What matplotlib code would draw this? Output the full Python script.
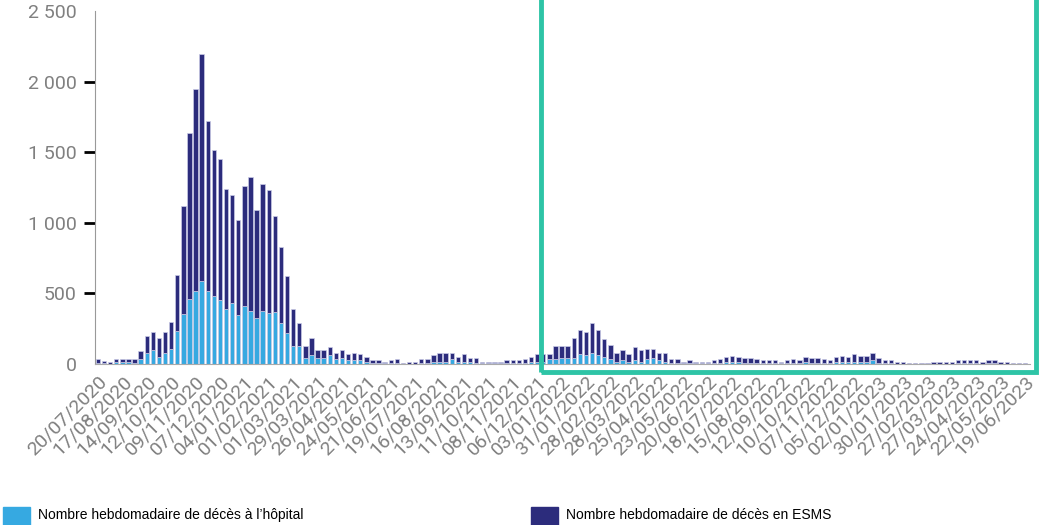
import matplotlib
matplotlib.use("Agg")
from matplotlib import pyplot as plt
from matplotlib.patches import Rectangle

# weekly deaths (total = hospital + ESMS)
total = [33, 23, 16, 33, 33, 33, 33, 90, 198, 226, 181, 226, 299, 628, 1120, 1640,
         1946, 2200, 1725, 1513, 1450, 1240, 1195, 1021, 1261, 1322, 1092, 1276, 1231,
         1047, 828, 626, 390, 289, 127, 181, 99, 99, 118, 80, 99, 71, 80, 71, 52, 26,
         26, 16, 26, 35, 5, 16, 16, 35, 35, 64, 80, 80, 80, 52, 71, 45, 45, 16, 16, 16,
         16, 26, 26, 26, 35, 52, 71, 71, 71, 125, 125, 125, 181, 238, 226, 292, 238,
         174, 134, 80, 99, 71, 118, 99, 108, 108, 80, 75, 35, 35, 16, 26, 16, 16, 16,
         26, 35, 52, 56, 52, 45, 45, 35, 26, 26, 26, 16, 26, 35, 26, 52, 45, 45, 35,
         26, 52, 56, 52, 71, 56, 56, 80, 45, 26, 26, 16, 16, 9, 9, 9, 9, 16, 16, 16,
         16, 26, 26, 26, 26, 16, 26, 26, 16, 16, 9, 9, 5]
hopital = [10, 5, 3, 14, 14, 16, 9, 35, 80, 99, 52, 80, 108, 235, 355, 464, 518, 588,
           518, 482, 454, 390, 435, 346, 409, 374, 327, 374, 358, 365, 289, 219, 127,
           127, 45, 61, 45, 45, 64, 35, 45, 26, 26, 26, 16, 9, 9, 5, 9, 9, 3, 3, 3, 9,
           9, 16, 16, 16, 33, 16, 16, 16, 9, 5, 5, 5, 5, 5, 5, 5, 9, 16, 16, 16, 35, 35,
           45, 45, 45, 71, 64, 80, 64, 52, 35, 16, 26, 16, 26, 16, 35, 45, 26, 16, 9, 9,
           5, 5, 5, 5, 5, 5, 9, 16, 16, 16, 9, 9, 9, 5, 5, 5, 5, 5, 9, 5, 16, 9, 9, 9, 5,
           16, 16, 16, 16, 16, 16, 26, 9, 5, 5, 3, 3, 2, 2, 2, 2, 3, 3, 3, 3, 5, 5, 5, 5,
           3, 5, 5, 3, 3, 2, 2, 1]
esms = [t - h for t, h in zip(total, hopital)]

tick_labels = ["20/07/2020", "17/08/2020", "14/09/2020", "12/10/2020", "09/11/2020",
               "07/12/2020", "04/01/2021", "01/02/2021", "01/03/2021", "29/03/2021",
               "26/04/2021", "24/05/2021", "21/06/2021", "19/07/2021", "16/08/2021",
               "13/09/2021", "11/10/2021", "08/11/2021", "06/12/2021", "03/01/2022",
               "31/01/2022", "28/02/2022", "28/03/2022", "25/04/2022", "23/05/2022",
               "20/06/2022", "18/07/2022", "15/08/2022", "12/09/2022", "10/10/2022",
               "07/11/2022", "05/12/2022", "02/01/2023", "30/01/2023", "27/02/2023",
               "27/03/2023", "24/04/2023", "22/05/2023", "19/06/2023"]
y_ticks = [0, 500, 1000, 1500, 2000, 2500]
y_labels = ["0", "500", "1 000", "1 500", "2 000", "2 500"]

light = "#36a9e1"
dark = "#2c2c7c"
grey = "#808080"

fig = plt.figure(figsize=(10.4, 5.25), dpi=100)
ax = fig.add_axes([0.0913, 0.3067, 0.899, 0.672])

x = list(range(len(total)))
ax.bar(x, hopital, width=0.72, color=light, edgecolor="#c9cbe6", linewidth=0.5)
ax.bar(x, esms, bottom=hopital, width=0.72, color=dark, edgecolor="#c9cbe6", linewidth=0.5)

ax.set_xlim(-0.5, 152.8)
ax.set_ylim(0, 2500)

ax.set_xticks(list(range(0, 4 * len(tick_labels), 4)))
ax.set_xticklabels(tick_labels, rotation=45, ha="right", va="top",
                   rotation_mode="anchor", fontsize=14, color=grey, family="Roboto")
ax.tick_params(axis="x", length=0, pad=6)

ax.set_yticks(y_ticks)
ax.set_yticklabels(y_labels, fontsize=14, color=grey, family="Roboto")
ax.tick_params(axis="y", length=8, width=2, color="black", pad=5)
ax.yaxis.get_major_ticks()[0].tick1line.set_visible(False)
ax.yaxis.get_major_ticks()[-1].tick1line.set_visible(False)

for s in ["top", "right"]:
    ax.spines[s].set_visible(False)
ax.spines["left"].set_color("#999999")
ax.spines["bottom"].set_color("#aaaaaa")

# green highlight frame (top edge runs off the picture)
fig.patches.append(Rectangle((541 / 1040, 1 - 372 / 525), 495 / 1040, 0.8,
                             transform=fig.transFigure, fill=False, edgecolor="#2ec4a6",
                             linewidth=3.5, clip_on=False, zorder=5))

# legend
fig.patches.append(Rectangle((3 / 1040, -0.01), 27 / 1040, 23 / 525,
                             transform=fig.transFigure, color=light))
fig.text(38 / 1040, 1 - 515 / 525, "Nombre hebdomadaire de décès à l’hôpital",
         fontsize=10, va="center", family="Liberation Sans")
fig.patches.append(Rectangle((531 / 1040, -0.01), 27 / 1040, 23 / 525,
                             transform=fig.transFigure, color=dark))
fig.text(566 / 1040, 1 - 515 / 525, "Nombre hebdomadaire de décès en ESMS",
         fontsize=10, va="center", family="Liberation Sans")

fig.savefig("out.png", dpi=100)
